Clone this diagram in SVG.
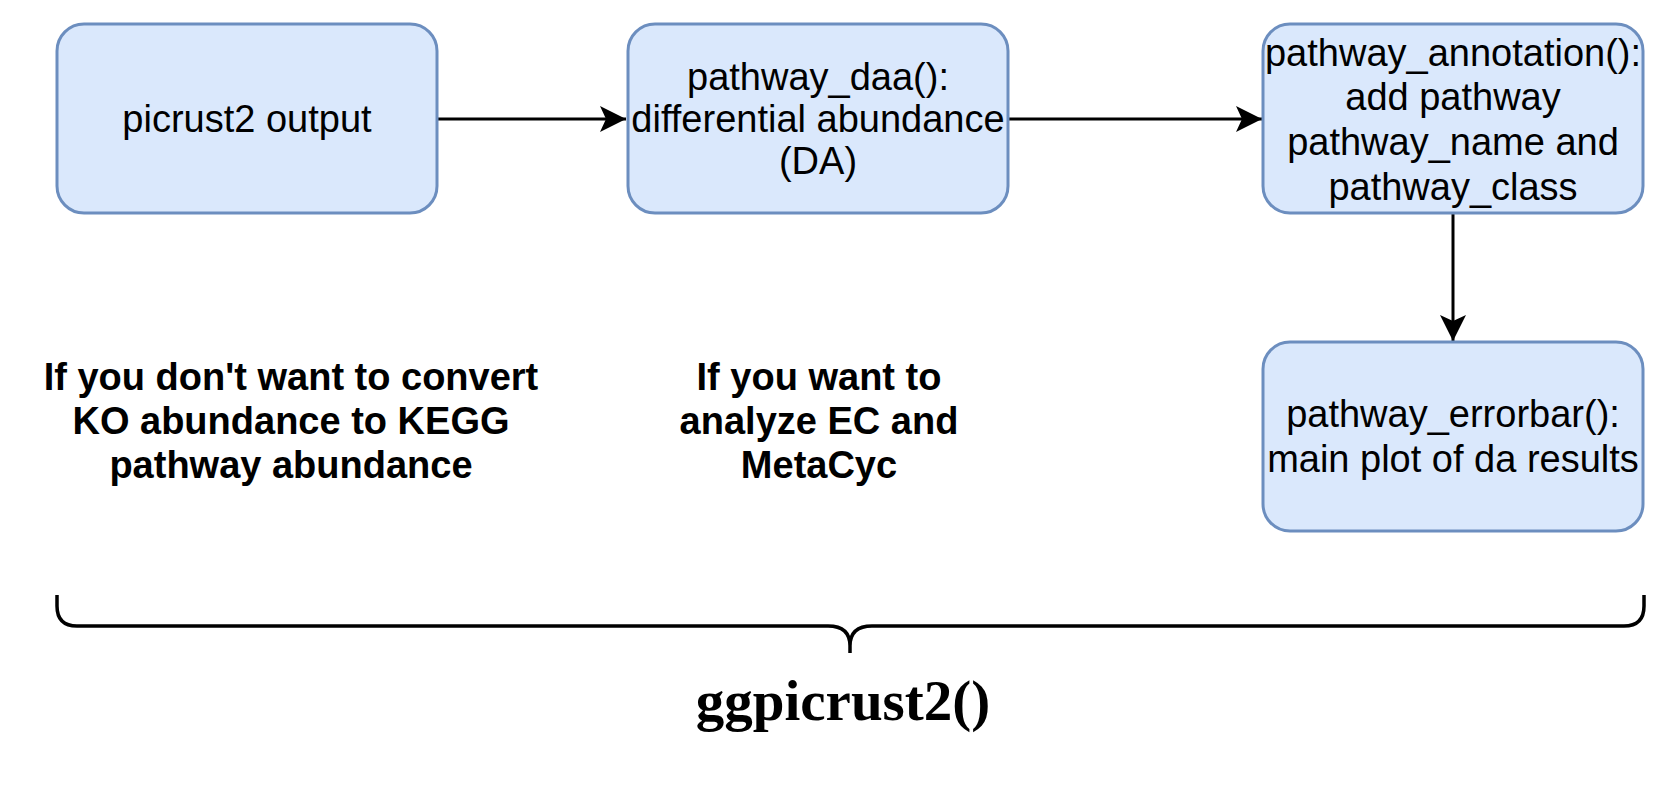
<svg xmlns="http://www.w3.org/2000/svg" width="1668" height="800" viewBox="0 0 1668 800">
  <style>
    .box { fill: #dae8fc; stroke: #6c8ebf; stroke-width: 3; }
    .label { font-family: "Liberation Sans", Arial, sans-serif; font-size: 38px; fill: #000; text-anchor: middle; }
    .note { font-family: "Liberation Sans", Arial, sans-serif; font-size: 38px; font-weight: bold; fill: #000; text-anchor: middle; }
    .title { font-family: "Liberation Serif", "Times New Roman", serif; font-size: 57px; font-weight: bold; fill: #000; text-anchor: middle; }
    .edge { fill: none; stroke: #000; stroke-width: 3; }
    .brace { fill: none; stroke: #000; stroke-width: 3.5; }
  </style>
  <defs>
    <marker id="arrow" markerUnits="userSpaceOnUse" markerWidth="26" markerHeight="26" refX="26" refY="13" orient="auto">
      <path d="M0,0 L26,13 L0,26 L6,13 Z" fill="#000"/>
    </marker>
  </defs>
  <rect width="1668" height="800" fill="#fff"/>

  <g id="connectors">
    <line class="edge" x1="438" y1="119" x2="626" y2="119" marker-end="url(#arrow)"/>
    <line class="edge" x1="1008" y1="119" x2="1262" y2="119" marker-end="url(#arrow)"/>
    <line class="edge" x1="1453" y1="213" x2="1453" y2="341" marker-end="url(#arrow)"/>
  </g>

  <g id="picrust2-output">
    <rect class="box" x="57" y="24" width="380" height="189" rx="27" ry="27"/>
    <text class="label" x="247" y="132">picrust2 output</text>
  </g>

  <g id="pathway-daa">
    <rect class="box" x="628" y="24" width="380" height="189" rx="27" ry="27"/>
    <text class="label" x="818" y="90">pathway_daa():</text>
    <text class="label" x="818" y="132">differential abundance</text>
    <text class="label" x="818" y="174">(DA)</text>
  </g>

  <g id="pathway-annotation">
    <rect class="box" x="1263" y="24" width="380" height="189" rx="27" ry="27"/>
    <text class="label" x="1453" y="66">pathway_annotation():</text>
    <text class="label" x="1453" y="110">add pathway</text>
    <text class="label" x="1453" y="155">pathway_name and</text>
    <text class="label" x="1453" y="200">pathway_class</text>
  </g>

  <g id="pathway-errorbar">
    <rect class="box" x="1263" y="342" width="380" height="189" rx="27" ry="27"/>
    <text class="label" x="1453" y="427">pathway_errorbar():</text>
    <text class="label" x="1453" y="472">main plot of da results</text>
  </g>

  <g id="note-ko">
    <text class="note" x="291" y="390">If you don't want to convert</text>
    <text class="note" x="291" y="434">KO abundance to KEGG</text>
    <text class="note" x="291" y="478">pathway abundance</text>
  </g>

  <g id="note-ec">
    <text class="note" x="819" y="390">If you want to</text>
    <text class="note" x="819" y="434">analyze EC and</text>
    <text class="note" x="819" y="478">MetaCyc</text>
  </g>

  <g id="ggpicrust2">
    <path class="brace" d="M57,595 L57,606 Q57,626 77,626 L828,626 Q850,626 850,646 L850,653 M850,646 Q850,626 872,626 L1624,626 Q1644,626 1644,606 L1644,595"/>
    <text class="title" x="843" y="720">ggpicrust2()</text>
  </g>
</svg>
